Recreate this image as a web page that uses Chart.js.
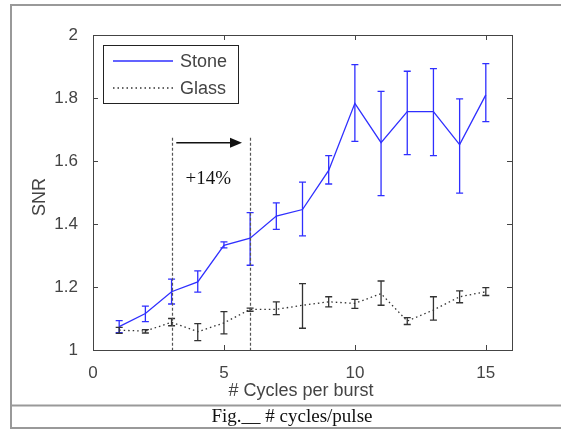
<!DOCTYPE html>
<html>
<head>
<meta charset="utf-8">
<script src="https://cdn.jsdelivr.net/npm/chart.js@4.4.0/dist/chart.umd.min.js"></script>
<style>
  html, body { margin: 0; padding: 0; background: #fff; }
  canvas { display: block; }
</style>
</head>
<body>
<canvas id="snr" width="561" height="429"></canvas>
<script>
// data
const cycles = [1, 2, 3, 4, 5, 6, 7, 8, 9, 10, 11, 12, 13, 14, 15];
const stoneMean = [1.074, 1.116, 1.185, 1.216, 1.332, 1.355, 1.425, 1.446, 1.570, 1.783, 1.658, 1.757, 1.757, 1.652, 1.810];
const stoneLow  = [1.055, 1.090, 1.146, 1.184, 1.324, 1.269, 1.383, 1.362, 1.527, 1.662, 1.490, 1.620, 1.617, 1.498, 1.725];
const stoneHigh = [1.093, 1.139, 1.225, 1.251, 1.343, 1.436, 1.467, 1.533, 1.617, 1.906, 1.821, 1.885, 1.893, 1.797, 1.909];
const glassMean = [1.063, 1.060, 1.088, 1.058, 1.086, 1.129, 1.129, 1.142, 1.153, 1.148, 1.179, 1.092, 1.127, 1.169, 1.185];
const glassLow  = [1.053, 1.054, 1.077, 1.030, 1.051, 1.123, 1.112, 1.069, 1.137, 1.132, 1.142, 1.081, 1.095, 1.150, 1.173];
const glassHigh = [1.072, 1.065, 1.100, 1.084, 1.122, 1.133, 1.153, 1.211, 1.169, 1.161, 1.219, 1.103, 1.169, 1.188, 1.198];
const xTicks = [0, 5, 10, 15];
const yTicks = [1, 1.2, 1.4, 1.6, 1.8, 2];
const markLines = [3, 6];

const tickFont = { family: "'Liberation Sans', Arial, sans-serif", size: 17 };

function pts(ys) {
  return cycles.map((c, i) => ({ x: c, y: ys[i] }));
}

// error bars, inside ticks, legend, notes, frame
const extras = {
  id: "extras",
  beforeDraw(chart) {
    const c = chart.ctx;
    c.save();
    c.fillStyle = "#fff";
    c.fillRect(0, 0, chart.width, chart.height);
    c.restore();
  },
  afterDatasetsDraw(chart) {
    const c = chart.ctx;
    const xs = chart.scales.x, ys = chart.scales.y;
    const a = chart.chartArea;
    c.save();

    // error bars
    const bars = [
      [stoneLow, stoneHigh, "#2f2fff", 3.5],
      [glassLow, glassHigh, "#333", 3.5]
    ];
    bars.forEach(([lo, hi, col, w]) => {
      c.strokeStyle = col;
      c.lineWidth = 1.3;
      cycles.forEach((cx, i) => {
        const px = xs.getPixelForValue(cx);
        const p1 = ys.getPixelForValue(lo[i]);
        const p2 = ys.getPixelForValue(hi[i]);
        c.beginPath();
        c.moveTo(px, p1); c.lineTo(px, p2);
        c.moveTo(px - w, p1); c.lineTo(px + w, p1);
        c.moveTo(px - w, p2); c.lineTo(px + w, p2);
        c.stroke();
      });
    });

    // dashed markers
    c.strokeStyle = "#555";
    c.lineWidth = 1.2;
    c.setLineDash([3, 2]);
    markLines.forEach(v => {
      const px = Math.round(xs.getPixelForValue(v)) + 0.5;
      c.beginPath();
      c.moveTo(px, ys.getPixelForValue(1.674));
      c.lineTo(px, a.bottom);
      c.stroke();
    });
    c.setLineDash([]);

    // arrow
    const ay = ys.getPixelForValue(1.658);
    const ax1 = xs.getPixelForValue(3.18), ax2 = xs.getPixelForValue(5.69);
    c.strokeStyle = "#111";
    c.fillStyle = "#111";
    c.lineWidth = 1.5;
    c.beginPath();
    c.moveTo(ax1, ay); c.lineTo(ax2 - 10, ay);
    c.stroke();
    c.beginPath();
    c.moveTo(ax2, ay); c.lineTo(ax2 - 12, ay - 5); c.lineTo(ax2 - 12, ay + 5);
    c.closePath();
    c.fill();

    c.font = "19px 'Liberation Serif', 'Times New Roman', serif";
    c.textAlign = "center";
    c.textBaseline = "middle";
    c.fillText("+14%", xs.getPixelForValue(4.4), ys.getPixelForValue(1.544));

    // axes box and inside ticks
    c.strokeStyle = "#444";
    c.lineWidth = 1;
    c.strokeRect(a.left + 0.5, a.top + 0.5, a.right - a.left, a.bottom - a.top);
    c.beginPath();
    xTicks.forEach(v => {
      const px = Math.round(xs.getPixelForValue(v)) + 0.5;
      c.moveTo(px, a.bottom); c.lineTo(px, a.bottom - 5);
      c.moveTo(px, a.top); c.lineTo(px, a.top + 5);
    });
    yTicks.forEach(v => {
      const py = Math.round(ys.getPixelForValue(v)) + 0.5;
      c.moveTo(a.left, py); c.lineTo(a.left + 5, py);
      c.moveTo(a.right, py); c.lineTo(a.right - 5, py);
    });
    c.stroke();

    // legend
    c.fillStyle = "#fff";
    c.fillRect(103, 45, 135, 58);
    c.strokeStyle = "#222";
    c.strokeRect(103.5, 45.5, 135, 58);
    c.lineWidth = 1.3;
    c.strokeStyle = "#2f2fff";
    c.beginPath(); c.moveTo(113, 61); c.lineTo(173, 61); c.stroke();
    c.strokeStyle = "#333";
    c.setLineDash([1.5, 3]);
    c.beginPath(); c.moveTo(113, 88); c.lineTo(173, 88); c.stroke();
    c.setLineDash([]);
    c.fillStyle = "#444";
    c.font = "18px 'Liberation Sans', Arial, sans-serif";
    c.textAlign = "left";
    c.fillText("Stone", 180, 62);
    c.fillText("Glass", 180, 89);

    // axis titles
    c.textAlign = "center";
    c.fillText("# Cycles per burst", 301, 391);
    c.save();
    c.translate(40, 197);
    c.rotate(-Math.PI / 2);
    c.fillText("SNR", 0, 0);
    c.restore();

    // outer frame and caption
    c.strokeStyle = "#999";
    c.lineWidth = 2;
    c.beginPath();
    c.moveTo(561, 5); c.lineTo(11, 5); c.lineTo(11, 428); c.lineTo(561, 428);
    c.moveTo(11, 405.5); c.lineTo(561, 405.5);
    c.stroke();
    c.fillStyle = "#111";
    c.font = "19px 'Liberation Serif', 'Times New Roman', serif";
    c.fillText("Fig.__ # cycles/pulse", 292, 417);

    c.restore();
  }
};

new Chart(document.getElementById("snr"), {
  type: "line",
  data: {
    datasets: [
      {
        label: "Stone",
        data: pts(stoneMean),
        borderColor: "#2f2fff",
        borderWidth: 1.3,
        pointRadius: 0,
        tension: 0
      },
      {
        label: "Glass",
        data: pts(glassMean),
        borderColor: "#333",
        borderWidth: 1.3,
        borderDash: [1.5, 3],
        pointRadius: 0,
        tension: 0
      }
    ]
  },
  options: {
    responsive: false,
    animation: false,
    devicePixelRatio: 1,
    layout: { padding: { left: 0, top: 35, right: 49, bottom: 0 } },
    plugins: { legend: { display: false }, tooltip: { enabled: false } },
    scales: {
      x: {
        type: "linear",
        min: 0,
        max: 16,
        grid: { display: false },
        border: { display: false },
        afterBuildTicks: s => { s.ticks = xTicks.map(v => ({ value: v })); },
        afterFit: s => { s.height = 79; },
        ticks: { font: tickFont, color: "#444", padding: 5, maxRotation: 0 }
      },
      y: {
        min: 1,
        max: 2,
        grid: { display: false },
        border: { display: false },
        afterBuildTicks: s => { s.ticks = yTicks.map(v => ({ value: v })); },
        afterFit: s => { s.width = 93; },
        ticks: {
          font: tickFont,
          color: "#444",
          padding: 7,
          callback: v => String(Number(v.toFixed(1)))
        }
      }
    }
  },
  plugins: [extras]
});
</script>
</body>
</html>
